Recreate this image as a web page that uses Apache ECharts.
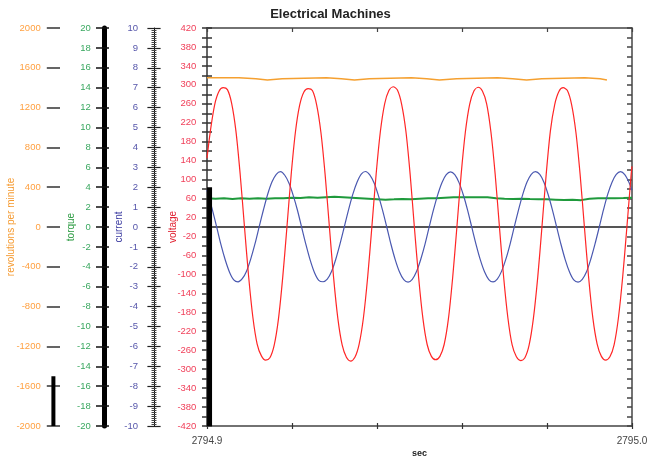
<!DOCTYPE html>
<html>
<head>
<meta charset="utf-8">
<script src="https://cdn.jsdelivr.net/npm/echarts@6/dist/echarts.min.js"></script>
<style>
  html, body { margin: 0; padding: 0; background: #fff; }
  #chart { width: 648px; height: 465px; }
</style>
</head>
<body>
<div id="chart"></div>
<script>
// ---------- data (time in ms after 2794.9 s) ----------
const xTickLabels = { 0: '2794.9', 100: '2795.0' };

const voltT = [0,0.8,1.8,2.8,3.8,4.8,5.8,6.8,7.8,8.8,9.8,10.8,11.8,12.8,13.8,14.8,15.8,16.8,17.8,18.8,19.8,
  20.8,21.8,22.8,23.8,24.8,25.8,26.8,27.8,28.8,29.8,30.8,31.8,32.8,33.8,34.8,35.8,36.8,37.8,38.8,39.8,
  40.8,41.8,42.8,43.8,44.8,45.8,46.8,47.8,48.8,49.8,50.8,51.8,52.8,53.8,54.8,55.8,56.8,57.8,58.8,59.8,
  60.8,61.8,62.8,63.8,64.8,65.8,66.8,67.8,68.8,69.8,70.8,71.8,72.8,73.8,74.8,75.8,76.8,77.8,78.8,79.8,
  80.8,81.8,82.8,83.8,84.8,85.8,86.8,87.8,88.8,89.8,90.8,91.8,92.8,93.8,94.8,95.8,96.8,97.8,98.8,99.8,100];
const voltV = [145,
  203,258,286,294,290,261,203,112,2,-105,-191,-247,-272,-281,-276,-250,-195,-108,-1,110,
  200,257,285,292,288,258,200,110,0,-108,-194,-249,-275,-283,-275,-247,-192,-106,1,112,
  202,260,288,296,289,259,202,111,-1,-107,-193,-248,-273,-280,-273,-248,-194,-107,0,111,
  201,259,287,295,287,260,201,112,1,-106,-192,-249,-274,-282,-276,-249,-193,-108,-1,110,
  203,258,286,294,288,258,200,110,0,-107,-193,-247,-273,-281,-274,-248,-192,-106,0,111,
  128];

const currT = [0,0.3,1.3,2.3,3.3,4.3,5.3,6.3,7.3,8.3,9.3,10.3,11.3,12.3,13.3,14.3,15.3,16.3,17.3,18.3,19.3,
  20.3,21.3,22.3,23.3,24.3,25.3,26.3,27.3,28.3,29.3,30.3,31.3,32.3,33.3,34.3,35.3,36.3,37.3,38.3,39.3,
  40.3,41.3,42.3,43.3,44.3,45.3,46.3,47.3,48.3,49.3,50.3,51.3,52.3,53.3,54.3,55.3,56.3,57.3,58.3,59.3,
  60.3,61.3,62.3,63.3,64.3,65.3,66.3,67.3,68.3,69.3,70.3,71.3,72.3,73.3,74.3,75.3,76.3,77.3,78.3,79.3,
  80.3,81.3,82.3,83.3,84.3,85.3,86.3,87.3,88.3,89.3,90.3,91.3,92.3,93.3,94.3,95.3,96.3,97.3,98.3,99.3,100];
const currV = [1.86,
  1.63,0.84,-0.02,-0.9,-1.66,-2.27,-2.66,-2.76,-2.6,-2.22,-1.6,-0.84,0.03,0.88,1.66,2.27,2.65,2.78,2.6,2.2,
  1.58,0.83,-0.04,-0.9,-1.68,-2.3,-2.68,-2.75,-2.62,-2.24,-1.62,-0.85,0,0.86,1.64,2.25,2.66,2.79,2.62,2.22,
  1.6,0.85,0,-0.88,-1.65,-2.26,-2.65,-2.77,-2.63,-2.24,-1.62,-0.86,0.02,0.87,1.63,2.24,2.63,2.77,2.63,2.23,
  1.62,0.86,-0.01,-0.87,-1.64,-2.25,-2.64,-2.76,-2.62,-2.23,-1.63,-0.87,0.01,0.86,1.64,2.26,2.65,2.78,2.64,2.24,
  1.61,0.84,-0.02,-0.88,-1.65,-2.26,-2.66,-2.77,-2.63,-2.25,-1.62,-0.85,0,0.87,1.65,2.25,2.64,2.78,2.63,2.24,
  1.85];

const torqT = [0,2,4,6,8,10,12,14,16,18,20,22,24,26,28,30,32,34,36,38,40,42,44,46,48,50,
  52,54,56,58,60,62,64,66,68,70,72,74,76,78,80,82,84,86,88,90,92,94,96,98,100];
const torqV = [2.9,2.85,2.9,2.82,2.88,2.85,2.9,2.84,2.88,2.9,2.95,2.92,2.98,2.95,3.0,3.05,3.0,2.95,2.9,2.85,2.8,2.75,2.78,2.82,2.8,2.85,
  2.88,2.9,2.95,2.98,3.0,3.0,3.0,2.98,2.9,2.85,2.82,2.85,2.82,2.8,2.78,2.75,2.72,2.75,2.7,2.85,2.88,2.9,2.9,2.92,2.95];

const rpmT = [0,7.5,11.5,14.2,17.7,28.1,31.6,34.7,38.2,48.1,51.7,54.7,58.7,68.4,71.9,75.2,78.8,88.9,92.5,94.1];
const rpmV = [1500,1490,1478,1490,1500,1490,1478,1490,1500,1490,1478,1490,1500,1490,1478,1490,1500,1490,1478,1478];

const zeroT = [0, 100];
const zeroV = [0, 0];

const traceT = [0.6, 0.6];
const traceI = [2.0, -10];

const rpmBarV = [-1500, -2000];

// ---------- chart ----------
const FONT = 'Liberation Sans, Arial, sans-serif';
const zip = (a, b) => a.map((v, i) => [v, b[i]]);
const plain = v => String(v);

const GRID_LEFT = 207;
const OFF = { rpm: 153.6, torque: 103, current: 53, voltage: 0 };

function yAx(o) {
  const base = {
    type: 'value', position: 'left', splitLine: { show: false },
    axisLine: { show: false, onZero: false }, axisLabel: { show: false },
    nameMoveOverlap: false
  };
  const r = Object.assign(base, o);
  r.axisLine = Object.assign({ onZero: false }, r.axisLine);
  return r;
}

const yAxes = [
  // 0 rpm
  yAx({ offset: OFF.rpm, min: -2000, max: 2000, interval: 400,
    axisLine: { show: false },
    axisTick: { show: true, length: 6.6, lineStyle: { color: '#333', width: 1.5 } },
    axisLabel: { show: true, color: '#ffa040', fontSize: 9.5, margin: 12.7, fontFamily: FONT, formatter: plain },
    name: 'revolutions per minute', nameLocation: 'middle', nameRotate: 90, nameGap: 37,
    nameTextStyle: { color: '#f59a30', fontSize: 10, fontFamily: FONT } }),
  // 1 rpm inside ticks
  yAx({ offset: OFF.rpm, min: -2000, max: 2000, interval: 400,
    axisLine: { show: false },
    axisTick: { show: true, inside: true, length: 6.6, lineStyle: { color: '#333', width: 1.5 } } }),
  // 2 torque
  yAx({ offset: OFF.torque, min: -20, max: 20, interval: 2,
    axisLine: { show: true, lineStyle: { color: '#000', width: 5 } },
    axisTick: { show: true, length: 8, lineStyle: { color: '#111', width: 1.5 } },
    axisLabel: { show: true, color: '#3aa860', fontSize: 9.5, margin: 13.3, fontFamily: FONT, formatter: plain },
    name: 'torque', nameLocation: 'middle', nameRotate: 90, nameGap: 28,
    nameTextStyle: { color: '#2a9a40', fontSize: 10, fontFamily: FONT } }),
  // 3 torque inside ticks
  yAx({ offset: OFF.torque, min: -20, max: 20, interval: 2,
    axisLine: { show: false },
    axisTick: { show: true, inside: true, length: 5, lineStyle: { color: '#111', width: 1.5 } } }),
  // 4 current
  yAx({ offset: OFF.current, min: -10, max: 10, interval: 1,
    axisLine: { show: true, lineStyle: { color: '#111', width: 1 } },
    axisTick: { show: true, length: 6.6, lineStyle: { color: '#222', width: 1.2 } },
    minorTick: { show: true, splitNumber: 10, length: 2.5, lineStyle: { color: '#444', width: 1 } },
    axisLabel: { show: true, color: '#5555aa', fontSize: 9.5, margin: 16, fontFamily: FONT, formatter: plain },
    name: 'current', nameLocation: 'middle', nameRotate: 90, nameGap: 30,
    nameTextStyle: { color: '#3a3aa0', fontSize: 10, fontFamily: FONT } }),
  // 5 current inside ticks
  yAx({ offset: OFF.current, min: -10, max: 10, interval: 1,
    axisLine: { show: false },
    axisTick: { show: true, inside: true, length: 6.6, lineStyle: { color: '#222', width: 1.2 } },
    minorTick: { show: true, splitNumber: 10, length: 2.5, lineStyle: { color: '#444', width: 1 } } }),
  // 6 voltage
  yAx({ offset: OFF.voltage, min: -420, max: 420, interval: 20,
    axisLine: { show: true, lineStyle: { color: '#333', width: 1.5 } },
    axisTick: { show: true, length: 5, lineStyle: { color: '#333', width: 1.5 } },
    axisLabel: { show: true, color: '#f0405a', fontSize: 9.5, margin: 10.6, fontFamily: FONT,
      formatter: v => ((v + 420) % 40 === 0 ? String(v) : '') },
    name: 'voltage', nameLocation: 'middle', nameRotate: 90, nameGap: 29,
    nameTextStyle: { color: '#e02030', fontSize: 10, fontFamily: FONT } }),
  // 7 voltage inside ticks
  yAx({ offset: OFF.voltage, min: -420, max: 420, interval: 20,
    axisLine: { show: false },
    axisTick: { show: true, inside: true, length: 5, lineStyle: { color: '#333', width: 1.5 } } }),
  // 8 right border axis
  yAx({ position: 'right', offset: 0, min: -420, max: 420, interval: 20,
    axisLine: { show: true, lineStyle: { color: '#444', width: 1.5 } },
    axisTick: { show: true, inside: true, length: 5, lineStyle: { color: '#444', width: 1.5 } } })
];

const xAxes = [
  { type: 'value', position: 'bottom', min: 0, max: 100, interval: 20, splitLine: { show: false },
    axisLine: { show: true, onZero: false, lineStyle: { color: '#444', width: 1.5 } },
    axisTick: { show: true, length: 3, lineStyle: { color: '#333', width: 1.2 } },
    axisLabel: { color: '#444', fontSize: 10, margin: 10, fontFamily: FONT,
      formatter: v => (xTickLabels[v] !== undefined ? xTickLabels[v] : '') },
    name: 'sec', nameLocation: 'middle', nameGap: 23, nameMoveOverlap: false,
    nameTextStyle: { color: '#222', fontSize: 9, fontWeight: 'bold', fontFamily: FONT } },
  { type: 'value', position: 'bottom', min: 0, max: 100, interval: 20, splitLine: { show: false },
    axisLine: { show: false, onZero: false }, axisLabel: { show: false },
    axisTick: { show: true, inside: true, length: 3, lineStyle: { color: '#333', width: 1.2 } } },
  { type: 'value', position: 'top', min: 0, max: 100, interval: 20, splitLine: { show: false },
    axisLine: { show: true, onZero: false, lineStyle: { color: '#444', width: 1.5 } }, axisLabel: { show: false },
    axisTick: { show: true, inside: true, length: 4, lineStyle: { color: '#444', width: 1.2 } } }
];

function lineSeries(name, yIdx, data, color, width, extra) {
  return Object.assign({
    name, type: 'line', xAxisIndex: 0, yAxisIndex: yIdx, data,
    symbol: 'none', silent: true, animation: false,
    lineStyle: { color, width }, itemStyle: { color }
  }, extra || {});
}

const chart = echarts.init(document.getElementById('chart'), null, { renderer: 'canvas' });
chart.setOption({
  animation: false,
  backgroundColor: '#ffffff',
  title: {
    text: 'Electrical Machines', left: 325.5, top: 3, textAlign: 'center',
    textStyle: { fontSize: 13, fontWeight: 'bold', color: '#222', fontFamily: FONT }
  },
  grid: { left: GRID_LEFT, top: 28, width: 425, height: 398, containLabel: false, outerBoundsMode: 'none' },
  xAxis: xAxes,
  yAxis: yAxes,
  series: [
    lineSeries('zero', 6, zip(zeroT, zeroV), '#555555', 2, { z: 1 }),
    lineSeries('torque', 2, zip(torqT, torqV), '#1f9a3c', 2, { z: 2 }),
    lineSeries('current', 4, zip(currT, currV), '#4a58b0', 1.2, { z: 3, smooth: 0.3 }),
    lineSeries('voltage', 6, zip(voltT, voltV), '#ff2626', 1.2, { z: 4, smooth: 0.3 }),
    lineSeries('rpm', 0, zip(rpmT, rpmV), '#f5a030', 1.5, { z: 5, step: 'end' }),
    lineSeries('trace', 4, zip(traceT, traceI), '#000000', 5, { z: 6 })
  ]
});

// black bar on the rpm axis, placed through the rpm scale
const barX = GRID_LEFT - OFF.rpm;
const barY1 = chart.convertToPixel({ yAxisIndex: 0 }, rpmBarV[0]);
const barY2 = chart.convertToPixel({ yAxisIndex: 0 }, rpmBarV[1]);
chart.setOption({
  graphic: [{
    type: 'line', z: 10, silent: true,
    shape: { x1: barX, y1: barY1, x2: barX, y2: barY2 },
    style: { stroke: '#000', lineWidth: 4 }
  }]
});
</script>
</body>
</html>
